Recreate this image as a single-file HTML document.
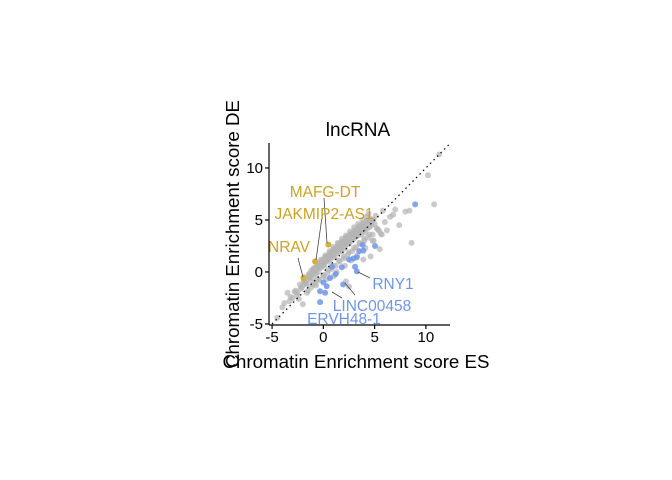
<!DOCTYPE html>
<html><head><meta charset="utf-8">
<style>
html,body{margin:0;padding:0;background:#fff;}
svg{display:block;font-family:"Liberation Sans",Arial,sans-serif;}
</style></head>
<body>
<svg id="chart" width="672" height="480" viewBox="0 0 672 480">
  <text x="358" y="136" text-anchor="middle" font-size="19" fill="#000">lncRNA</text>
  <g id="plot"></g>
  <text x="356" y="368" text-anchor="middle" font-size="18.7" fill="#000">Chromatin Enrichment score ES</text>
  <text transform="translate(239,234) rotate(-90)" text-anchor="middle" font-size="18.7" fill="#000">Chromatin Enrichment score DE</text>
</svg>
<script>
const xTicks=[-5,0,5,10];
const yTicks=[-5,0,5,10];
const grayX=[-4.5,-3.8,-3.3,-3.0,-2.7,-2.5,-2.2,-2.0,-1.8,-1.6,-1.5,-1.3,-1.2,-1.0,-0.9,-0.7,-0.6,-0.5,-0.3,-0.2,0.0,0.1,0.2,0.3,0.5,0.6,0.7,0.8,1.0,1.1,1.2,1.3,1.5,1.6,1.7,1.8,2.0,2.1,2.2,2.4,2.5,2.6,2.8,2.9,3.0,3.2,3.3,3.4,3.6,3.7,3.8,4.0,4.1,4.3,4.5,4.7,5.0,5.3,5.6,6.0,6.5,7.0,7.4,8.0,8.4,8.6,10.2,10.8,11.3,
 -2.6,-2.1,-1.7,-1.3,-0.9,-0.5,-0.1,0.3,0.7,1.1,1.5,1.9,2.3,2.7,3.1,3.5,3.9,4.3,4.7,
 -2.3,-1.9,-1.4,-1.0,-0.6,-0.2,0.2,0.6,1.0,1.4,1.8,2.2,2.6,3.0,3.4,3.8,4.2,4.6,5.1,
 -1.8,-1.2,-0.8,-0.4,0.0,0.4,0.8,1.2,1.6,2.0,2.4,2.8,3.2,3.6,4.0,4.4,4.9,
 -1.5,-1.0,-0.5,0.0,0.5,1.0,1.5,2.0,2.5,3.0,3.5,4.0,4.5,5.2,
 -1.9,-1.4,-1.0,-0.6,-0.2,0.2,0.6,1.0,1.4,1.8,2.2,2.6,3.0,3.4,3.8,4.2,
 -1.2,-0.8,-0.4,0.0,0.4,0.8,1.2,1.6,2.0,2.4,2.8,3.2,3.6,4.0,4.4,4.8,5.4,
 -0.8,-0.3,0.3,0.9,1.4,1.9,2.4,2.9,3.4,3.9,4.4,
 -2.4,-1.6,-0.7,0.3,1.3,2.1,2.7,3.3,4.1,4.9,5.7,
 -3.5,-2.8,2.2,4.6,5.5,3.9,1.0,-4.0,2.5,6.8,4.8,-3.2,-2.0,6.2,5.8,4.4];
const grayY=[-4.4,-3.0,-2.8,-2.5,-1.8,-2.0,-1.6,-1.3,-1.0,-1.2,-0.6,-0.8,-0.3,-0.6,0.1,-0.2,0.3,0.0,0.5,0.4,0.7,0.6,1.0,1.1,1.0,1.4,1.2,1.5,1.6,1.4,2.0,1.8,1.9,2.2,2.3,2.0,2.5,2.3,2.6,2.8,2.7,3.0,3.0,3.3,3.2,3.4,3.6,3.5,3.8,3.6,4.0,4.1,3.8,4.2,4.3,4.5,4.6,4.1,3.7,4.8,5.3,6.0,4.5,5.8,5.9,2.8,9.3,6.5,11.3,
 -2.2,-1.5,-1.1,-0.5,-0.1,0.4,0.8,1.3,1.8,2.2,2.7,3.0,3.4,3.7,4.0,4.4,4.6,4.9,5.0,
 -1.2,-0.8,-0.2,0.2,0.6,1.0,1.4,1.8,2.2,2.5,2.9,3.3,3.6,4.0,4.3,4.6,4.9,5.1,5.4,
 -0.5,0.1,0.4,0.7,1.2,1.5,1.9,2.1,2.4,2.8,3.1,3.5,3.8,4.1,4.3,4.6,5.0,
 -1.8,-1.2,-0.7,-0.3,0.2,0.6,1.1,1.5,1.9,2.3,2.8,3.2,3.6,4.2,
 -0.9,-0.3,0.3,0.8,1.2,1.6,2.0,2.4,2.8,3.2,3.5,3.9,4.3,4.6,5.0,5.3,
 -1.5,-1.1,-0.8,-0.4,-0.1,0.3,0.6,1.0,1.3,1.7,2.0,2.4,2.7,3.0,3.3,3.6,4.0,
 0.4,1.0,1.5,2.0,2.4,2.8,3.2,3.6,4.0,4.4,4.8,
 -2.6,-2.0,-1.3,-0.7,0.0,0.6,1.1,1.6,2.3,3.0,3.6,
 -2.0,-1.9,-0.9,1.5,2.2,1.2,-0.4,-3.4,-1.4,5.5,3.0,-2.4,-3.1,4.0,5.9,5.6];
const blueX=[8.95,3.84,5.04,3.9,3.26,2.93,0.82,1.8,3.09,3.26,0.65,0.33,-0.32,0.17,1.93,-0.32,2.5,3.5,1.2,0.0];
const blueY=[6.5,2.6,2.5,2.05,1.4,1.3,0.5,0.45,0.5,0.06,-0.58,-1.38,-1.86,-2.0,-1.2,-2.9,1.2,2.0,-0.2,-1.0];
const yellowX=[-1.95,-0.81,0.49];
const yellowY=[-0.58,1.02,2.63];
const labelText=["MAFG-DT","JAKMIP2-AS1","NRAV","RNY1","LINC00458","ERVH48-1"];

const NS="http://www.w3.org/2000/svg";
const plot=document.getElementById('plot');
const X0=269,X1=450,Y0=325,Y1=143;
const xmin=-5.3,xmax=12.35,ymin=-5.1,ymax=12.4;
function sx(v){return X0+(v-xmin)/(xmax-xmin)*(X1-X0);}
function sy(v){return Y0-(v-ymin)/(ymax-ymin)*(Y0-Y1);}
function mk(t,a){const e=document.createElementNS(NS,t);for(const k in a)e.setAttribute(k,a[k]);plot.appendChild(e);return e;}

for(let i=0;i<grayX.length;i++){
  const c=mk('circle',{cx:sx(grayX[i]),cy:sy(grayY[i]),r:3,fill:'#b4b4b4','fill-opacity':0.7});
  
  
}
for(let i=0;i<blueX.length;i++){
  const c=mk('circle',{cx:sx(blueX[i]),cy:sy(blueY[i]),r:3,fill:'#6f95e8','fill-opacity':0.85});
  
  
}
for(let i=0;i<yellowX.length;i++){
  const c=mk('circle',{cx:sx(yellowX[i]),cy:sy(yellowY[i]),r:3,fill:'#d4b13a'});
  
  
}
const diag=mk('line',{x1:sx(-5),y1:sy(-5),x2:sx(12.3),y2:sy(12.3),stroke:'#000','stroke-width':1.2,'stroke-dasharray':'1.5,3.5'});



const leaders=[[324,198,327,243],[322,217,316,260],[298,258,303,277],[370,278,358,272],[355,295,345,283],[342,298,332,292]];
leaders.forEach(l=>{const e=mk('line',{x1:l[0],y1:l[1],x2:l[2],y2:l[3],stroke:'#444','stroke-width':0.8});
  
  });
const lpos=[[325,197,'#c9a227'],[324,219,'#c9a227'],[289,252,'#c9a227'],[393,289,'#6f95e8'],[372,311,'#6f95e8'],[344,324,'#6f95e8']];
labelText.forEach((t,i)=>{const e=mk('text',{x:lpos[i][0],y:lpos[i][1],'text-anchor':'middle','font-size':15.5,fill:lpos[i][2]});
  e.textContent=t;
  
  });

const ax=mk('line',{x1:X0,y1:Y0,x2:X1,y2:Y0,stroke:'#000','stroke-width':1.2});


const ay=mk('line',{x1:X0,y1:Y0,x2:X0,y2:Y1,stroke:'#000','stroke-width':1.2});


xTicks.forEach(v=>{const x=sx(v);
  const t=mk('line',{x1:x,y1:Y0,x2:x,y2:Y0+4,stroke:'#000','stroke-width':1.2});
  
  
  const l=mk('text',{x:x,y:Y0+17,'text-anchor':'middle','font-size':15,fill:'#000'});l.textContent=v;
  
  });
yTicks.forEach(v=>{const y=sy(v);
  const t=mk('line',{x1:X0-4,y1:y,x2:X0,y2:y,stroke:'#000','stroke-width':1.2});
  
  
  const l=mk('text',{x:X0-6,y:y+5,'text-anchor':'end','font-size':15,fill:'#000'});l.textContent=v;
  
  });
</script>
</body></html>
